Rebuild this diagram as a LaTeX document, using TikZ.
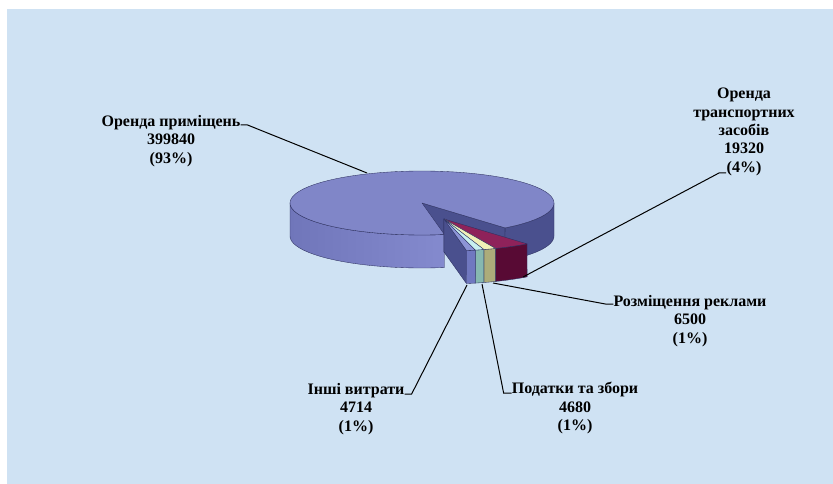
\documentclass[tikz,border=0pt]{standalone}
\usepackage{fontspec}
\setmainfont{Liberation Serif}
\usetikzlibrary{calc}

\definecolor{bgblue}{RGB}{207,226,243}
\definecolor{maintop}{RGB}{128,134,200}
\definecolor{mainside}{RGB}{112,118,186}
\definecolor{mainsidelt}{RGB}{132,138,206}
\definecolor{maindark}{RGB}{74,80,142}
\definecolor{pieline}{RGB}{44,47,94}
\definecolor{plumtop}{RGB}{142,34,90}
\definecolor{plumfront}{RGB}{88,10,52}
\definecolor{yeltop}{RGB}{240,240,184}
\definecolor{yelfront}{RGB}{172,172,122}
\definecolor{turtop}{RGB}{200,240,240}
\definecolor{turfront}{RGB}{134,184,176}
\definecolor{blutop}{RGB}{140,148,214}
\definecolor{blufront}{RGB}{112,120,192}

\begin{document}
\begin{tikzpicture}[x=1pt, y=-1pt,
    lbl/.style={font=\bfseries\fontsize{16}{18.4}\selectfont, align=center, inner sep=0pt, anchor=north},
    lead/.style={black, line width=1pt},
    rimline/.style={draw=pieline, line width=0.35pt, line join=round}
  ]
  \def\cx{422}\def\cy{203}\def\rx{132}\def\ry{32}\def\dep{33}
  \def\ex{444}\def\ey{219}

  % background
  \useasboundingbox (0,0) rectangle (833,484);
  \fill[white] (0,0) rectangle (833,484);
  \fill[bgblue] (7,9) rectangle (833,484);

  % big slice
  \fill[maindark, rimline] (\cx,\cy) -- ({\cx+\rx*cos(-51)},{\cy-\ry*sin(-51)}) -- ++(0,\dep) -- (\cx,\cy+\dep) -- cycle;
  \path[rimline, left color=mainside, right color=mainsidelt]
    plot[domain=180:279.8, samples=40] ({\cx+\rx*cos(\x)},{\cy-\ry*sin(\x)})
    -- plot[domain=279.8:180, samples=40] ({\cx+\rx*cos(\x)},{\cy+\dep-\ry*sin(\x)}) -- cycle;
  \path[rimline, fill=maindark]
    plot[domain=-51:0, samples=20] ({\cx+\rx*cos(\x)},{\cy-\ry*sin(\x)})
    -- plot[domain=0:-51, samples=20] ({\cx+\rx*cos(\x)},{\cy+\dep-\ry*sin(\x)}) -- cycle;
  \path[rimline, fill=maintop] (\cx,\cy)
    -- plot[domain=-51:279.8, samples=90] ({\cx+\rx*cos(\x)},{\cy-\ry*sin(\x)}) -- cycle;

  % exploded small slices
  \foreach \a/\b/\tp/\fr in {-67/-51/plumtop/plumfront, -72.4/-67/yeltop/yelfront,
                             -76.3/-72.4/turtop/turfront, -80.2/-76.3/blutop/blufront}{
    \fill[maindark, rimline] (\ex,\ey) -- ({\ex+\rx*cos(\a)},{\ey-\ry*sin(\a)}) -- ++(0,\dep) -- (\ex,\ey+\dep) -- cycle;
    \path[rimline, fill=\fr]
      plot[domain=\a:\b, samples=8] ({\ex+\rx*cos(\x)},{\ey-\ry*sin(\x)})
      -- plot[domain=\b:\a, samples=8] ({\ex+\rx*cos(\x)},{\ey+\dep-\ry*sin(\x)}) -- cycle;
    \path[rimline, fill=\tp] (\ex,\ey)
      -- plot[domain=\a:\b, samples=8] ({\ex+\rx*cos(\x)},{\ey-\ry*sin(\x)}) -- cycle;
  }

  % labels
  \node[lbl] (lblMain) at (171,115) {Оренда приміщень\\399840\\(93\%)};
  \node[lbl] (lblTrans) at (744,88) {Оренда\\транспортних\\засобів\\19320\\(4\%)};
  \node[lbl] (lblAds) at (690,295) {Розміщення реклами\\6500\\(1\%)};
  \node[lbl] (lblTax) at (575,382) {Податки та збори\\4680\\(1\%)};
  \node[lbl] (lblOther) at (356,383) {Інші витрати\\4714\\(1\%)};

  \coordinate (tipMain) at (367,173);
  \coordinate (tipTrans) at (523,277);
  \coordinate (tipAds) at (493,283);
  \coordinate (tipTax) at (482,284);
  \coordinate (tipOther) at (467,285);

  % leaders
  \draw[lead] ([yshift=-10pt]lblMain.north east) -- ++(7,0) -- (tipMain);
  \draw[lead] ([xshift=-18pt, yshift=3pt]lblTrans.south) -- ++(-7,0) -- (tipTrans);
  \draw[lead] ([yshift=-9pt]lblAds.north west) -- ++(-8,0) -- (tipAds);
  \draw[lead] ([yshift=-11pt]lblTax.north west) -- ++(-8,0) -- (tipTax);
  \draw[lead] ([yshift=-11pt]lblOther.north east) -- ++(7,0) -- (tipOther);
\end{tikzpicture}
\end{document}
